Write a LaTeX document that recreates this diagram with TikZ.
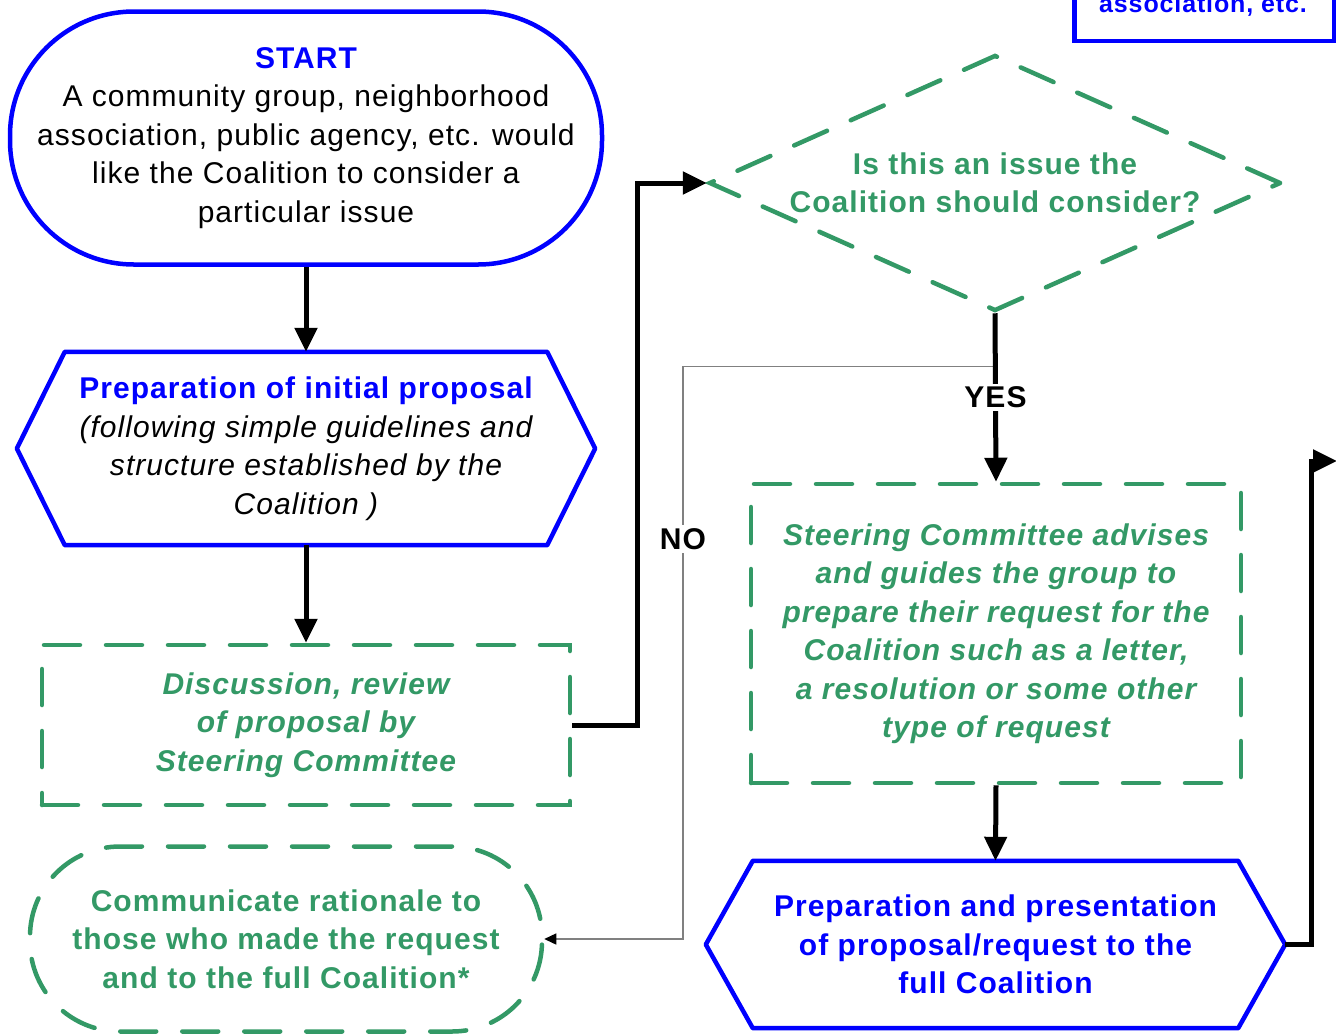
\documentclass[tikz,border=0pt]{standalone}
\usepackage{fontspec}
\setmainfont{Liberation Sans}[LetterSpace=3.5]
\usetikzlibrary{arrows.meta,shapes.geometric,calc}
\definecolor{cgreen}{RGB}{51,153,102}
\definecolor{cblue}{RGB}{0,0,255}
\newcommand{\fsz}{\fontsize{30}{38.5}\selectfont}
\begin{document}
\begin{tikzpicture}[x=1pt,y=-1pt,
  txt/.style={align=center,font=\fsz,inner sep=0pt},
  bluebox/.style={draw=cblue,line width=4.5pt},
  greenbox/.style={draw=cgreen,line width=4.5pt,dash pattern=on 36pt off 26pt,line cap=round},
  flow/.style={line width=5pt,-{Triangle[length=24pt,width=22pt]}},
  noline/.style={draw=gray,line width=1.4pt,-{Triangle[length=12pt,width=11pt,fill=black,color=black]}},
  lab/.style={font=\fsz\bfseries,fill=white,inner sep=3pt}
]
\useasboundingbox (0,0) rectangle (1336,1034);
\clip (0,0) rectangle (1336,1034);

% top-right box (cut by the picture edge)
\node[bluebox,rectangle,minimum width=260pt,minimum height=100pt,anchor=south west,inner sep=0pt] (topbox) at (1072,43) {};
\node[txt,font=\fontsize{25}{30}\selectfont\bfseries,text=cblue,anchor=base] (toptext) at (1203,12) {association, etc.};

% start terminal
\node[bluebox,rectangle,rounded corners=124pt,minimum width=592pt,minimum height=253pt,txt] (start) at (306,138)
  {{\color{cblue}\bfseries START}\\A community group, neighborhood\\association, public agency, etc. would\\like the Coalition to consider a\\particular issue};

% preparation of initial proposal (hexagon)
\node[txt,minimum width=482pt,minimum height=193pt] (prep) at (306,448.5)
  {{\color{cblue}\bfseries Preparation of initial proposal}\\\itshape (following simple guidelines and\\\itshape structure established by the\\\itshape Coalition )};
\draw[bluebox,line join=round] (prep.north west) -- (prep.north east) -- ($(prep.east)+(48,0)$) -- (prep.south east)
  -- (prep.south west) -- ($(prep.west)+(-48,0)$) -- cycle;

% discussion box
\node[greenbox,rectangle,minimum width=528pt,minimum height=160pt,txt,text=cgreen,font=\fsz\bfseries\itshape] (disc) at (306,725)
  {Discussion, review\\of proposal by\\Steering Committee};

% decision diamond
\node[greenbox,diamond,minimum width=572pt,minimum height=256pt,inner sep=0pt] (dia) at (995,183) {};
\node[txt,text=cgreen,font=\fsz\bfseries] (diat) at (995,183) {Is this an issue the\\Coalition should consider?};

% steering committee box
\node[greenbox,rectangle,minimum width=490pt,minimum height=299pt,txt,text=cgreen,font=\fsz\bfseries\itshape] (steer) at (996,633.5)
  {Steering Committee advises\\and guides the group to\\prepare their request for the\\Coalition such as a letter,\\a resolution or some other\\type of request};

% presentation hexagon
\node[txt,minimum width=485pt,minimum height=167pt,text=cblue,font=\fsz\bfseries] (pres) at (995.5,944.5)
  {Preparation and presentation\\of proposal/request to the\\full Coalition};
\draw[bluebox,line join=round] (pres.north west) -- (pres.north east) -- ($(pres.east)+(47,0)$) -- (pres.south east)
  -- (pres.south west) -- ($(pres.west)+(-47,0)$) -- cycle;
\coordinate (presR) at ($(pres.east)+(47,0)$);

% communicate rationale
\node[greenbox,rectangle,rounded corners=90pt,minimum width=512pt,minimum height=185pt,txt,text=cgreen,font=\fsz\bfseries] (comm) at (286,939)
  {Communicate rationale to\\those who made the request\\and to the full Coalition*};

% connectors
\draw[flow] (start.south) -- (prep.north);
\draw[flow] (prep.south) -- (disc.north);
\draw[flow] (disc.east) -- ++(65,0) |- (dia.west);
\draw[noline] ($(dia.south)+(0,53)$) -- ++(-312,0) |- (comm.east);
\node[lab] (no) at (683,539) {NO};
\draw[flow] (dia.south) -- (steer.north) node[lab,pos=0.5] (yes) {YES};
\draw[flow] (steer.south) -- (pres.north);
\coordinate (offR) at (1337,461);
\draw[flow] (presR) -- ++(26,0) |- (offR);
\end{tikzpicture}
\end{document}
